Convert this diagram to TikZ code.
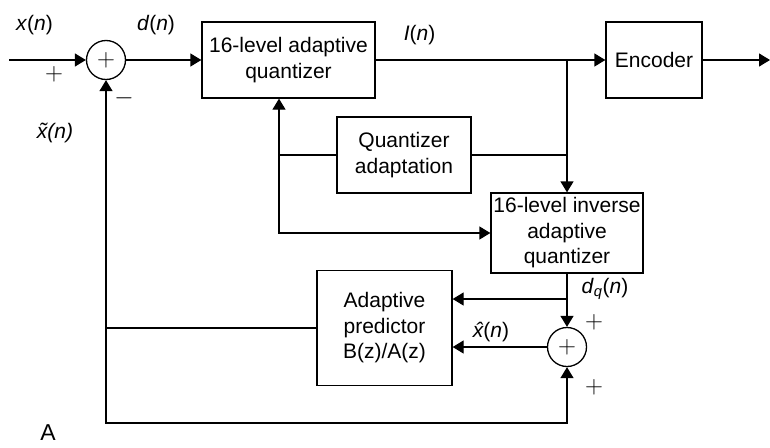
\documentclass[tikz,border=0pt]{standalone}
\usepackage{fontspec}
\setmainfont{Liberation Sans}
\usetikzlibrary{arrows.meta,positioning}

\tikzset{
  blk/.style={draw, line width=1.3pt, align=center, inner sep=2pt, font=\fontsize{21}{25.5}\selectfont},
  summer/.style={draw, circle, line width=1.3pt, minimum size=39pt, inner sep=0pt, font=\fontsize{24}{26}\selectfont},
  sig/.style={line width=1.3pt, -{Triangle[length=11pt,width=13pt]}},
  wire/.style={line width=1.3pt},
  lbl/.style={inner sep=0pt, font=\fontsize{21}{25}\selectfont},
  sgn/.style={inner sep=0pt, font=\fontsize{24}{26}\selectfont}
}

\begin{document}
\begin{tikzpicture}[x=1pt, y=-1pt]
\useasboundingbox (0,0) rectangle (770,447);

% Forward path
\node[summer] (sum1) at (106,60) {$+$};
\node[blk, minimum width=173pt, minimum height=76pt] (quant) at (288.5,60) {16-level adaptive\\quantizer};
\node[blk, minimum width=96pt, minimum height=76pt] (enc) at (654,60) {Encoder};

% Adaptation and inverse quantizer
\node[blk, minimum width=134pt, minimum height=76pt] (adapt) at (404,155) {Quantizer\\adaptation};
\node[blk, minimum width=152pt, minimum height=80pt] (invq) at (567,233) {16-level inverse\\adaptive\\quantizer};

% Predictor loop
\node[blk, minimum width=135pt, minimum height=115pt] (pred) at (384.5,328) {Adaptive\\predictor\\B(z)/A(z)};
\node[summer] (sum2) at (567,347) {$+$};

% Branch points
\coordinate (in) at (9,60);
\coordinate (out) at (770,60);
\coordinate (tap) at (567,60);
\coordinate (fb) at (279,155);
\coordinate (dqtap) at (567,299);
\coordinate (xt) at (106,328);
\coordinate (bot) at (106,423);

% Labels
\node[lbl] (lx) at (34.5,25) {\textit{x}(\textit{n})};
\node[lbl] (ld) at (156,25) {\textit{d}(\textit{n})};
\node[lbl] (lI) at (419.5,35) {\textit{I}(\textit{n})};
\node[lbl] (lxt) at (55,133) {{\itshape \~{x}(n)}};
\node[lbl] (ldq) at (605,289) {\textit{d}\textsubscript{\textit{q}}(\textit{n})};
\node[lbl] (lxh) at (491,332) {{\itshape \^{x}}(\textit{n})};
\node[sgn] (p1) at (54,74) {$+$};
\node[sgn] (m1) at (124,98) {$-$};
\node[sgn] (p2) at (594,322) {$+$};
\node[sgn] (p3) at (594,387) {$+$};
\node[lbl, font=\fontsize{23}{25}\selectfont] (lA) at (48,433) {A};

% Connectors
\draw[sig] (in) -- (sum1);
\draw[sig] (sum1) -- (quant);
\draw[sig] (quant) -- (enc);
\draw[sig] (enc) -- (out);
\draw[sig] (tap) -- (invq);
\draw[wire] (adapt.east) -- (adapt.east -| tap);
\draw[sig] (adapt.west) -- (fb) -- (fb |- quant.south);
\draw[sig] (fb) |- (invq.west);
\draw[sig] (invq) -- (sum2);
\draw[sig] (dqtap) -- (dqtap -| pred.east);
\draw[sig] (sum2) -- (sum2 -| pred.east);
\draw[wire] (pred.west) -- (xt);
\draw[sig] (xt) -- (sum1);
\draw[sig] (xt) -- (bot) -| (sum2);
\end{tikzpicture}
\end{document}
